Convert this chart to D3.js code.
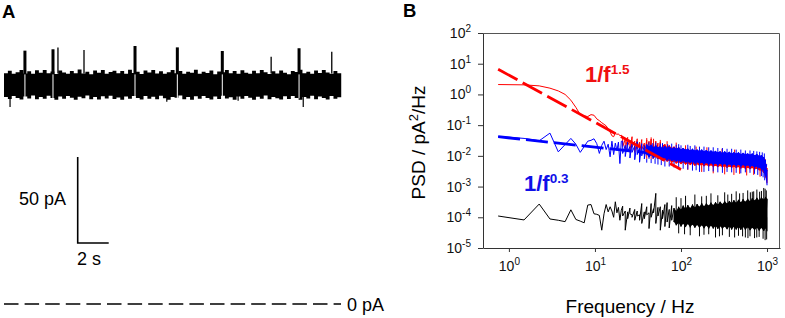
<!DOCTYPE html>
<html><head><meta charset="utf-8">
<script src="https://cdn.jsdelivr.net/npm/d3@7"></script>
<style>html,body{margin:0;padding:0;background:#fff;} svg{display:block;font-family:"Liberation Sans",Arial,sans-serif;}</style>
</head><body><svg id="c" width="785" height="318"></svg>
<script>
// ================= Panel A : current trace (pA vs s) =================
const traceDt = 0.25; // s between envelope samples
const traceUpper = [
134.2,135.6,133.9,134.8,136.1,134.0,135.3,133.8,135.9,134.4,
136.0,134.1,135.2,133.7,135.8,134.6,133.9,135.5,134.2,136.3,
134.0,135.1,133.6,135.7,134.5,136.0,133.9,134.9,135.6,134.1,
135.4,133.8,136.2,134.3,135.0,133.7,135.8,134.6,136.1,134.0,
135.3,133.9,134.8,136.0,134.2,135.5,133.8,135.1,134.4,136.2,
133.9,135.0,134.3,135.7,133.6,135.2,134.7,136.0,134.1,135.4,
133.8,135.9,134.5,133.9,135.6,134.2,136.1,134.8,133.7,135.3,
134.0,135.8,134.4,133.6,135.5,134.9,136.2,134.1,135.0,133.8,
135.7,134.3,136.0,134.6,133.9,135.4,134.2,135.1];
const traceLower = [
120.4,119.2,121.0,119.8,118.9,120.7,119.5,121.2,119.0,120.3,
119.4,121.1,119.7,118.8,120.6,119.3,121.0,119.9,118.7,120.5,
119.6,121.2,119.1,120.4,118.9,120.8,119.5,121.1,119.2,120.0,
118.8,120.6,119.4,121.0,119.7,118.9,120.9,119.3,120.5,119.0,
121.1,119.6,118.8,120.4,119.9,121.2,119.1,120.3,118.7,120.8,
119.4,121.0,119.8,118.9,120.6,119.2,121.1,119.5,120.2,118.8,
120.7,119.3,121.0,119.9,118.7,120.5,119.4,121.2,119.0,120.3,
119.6,118.9,120.8,119.2,121.0,119.7,118.8,120.4,119.5,121.1,
119.1,120.6,119.8,118.9,120.9,119.4,120.2,119.6];
const downNeedleT = [0.39, 10.5, 15.1, 19.3];
const downNeedleV = [114.5, 117.6, 118.2, 114.5];
const openT = [1.35, 3.16, 8.45, 11.18, 14.08, 19.03];      // openings (band shifted up)
const openPeak = [147.3, 148.1, 150.0, 149.2, 147.1, 148.7];
const openBase = 133.5;
const spikeT = [3.48, 5.16, 17.23, 21.14];                    // brief spikes
const spikePeak = [149.2, 147.7, 143.8, 146.7];
const scaleAmp = 50, scaleTime = 2;

// ================= Panel B : PSD =================
const blackF = [0.75,1.5,2.25,3.0,3.75,4.5,5.25,6.0,6.75,7.5,8.25,9.0,9.75,10.5,11.25,12.0,12.75,13.5,14.25,15.0,15.75,16.5,17.25,18.0,18.75,19.5,20.25];
const blackV = [1.1e-4,8.2e-5,2.7e-4,8.8e-5,8.0e-5,7.2e-5,1.75e-4,8.5e-5,7.5e-5,6.6e-5,2.5e-4,2.6e-4,1.3e-4,1.25e-4,1.15e-4,3.8e-5,1.3e-4,2.6e-4,1.5e-4,2.2e-4,1.6e-4,1.0e-4,3.2e-4,1.4e-4,2.1e-4,8.0e-5,1.7e-4];
const redF = [0.75,1.5,2.25,3.0,3.75,4.5,5.25,6.0,6.75,7.5,8.25,9.0,9.75,10.5,11.25,12.0,13.5,14.25,15.0,15.75,16.5,17.25,18.0,18.75,19.5,20.25];
const redV = [2.1,2.05,1.9,1.6,1.3,1.0,0.65,0.38,0.22,0.20,0.19,0.22,0.21,0.16,0.14,0.12,0.095,0.075,0.06,0.045,0.042,0.055,0.05,0.052,0.045,0.047];
const blueF = [0.75,1.5,2.25,3.0,3.75,5.25,6.0,6.75,7.5,8.25,9.0,9.75,10.5,11.25,12.0,12.75,13.5,14.25,15.0,15.75,16.5,17.25,18.0,18.75,19.5,20.25];
const blueV = [0.043,0.037,0.031,0.055,0.0135,0.037,0.024,0.013,0.02,0.03,0.032,0.036,0.025,0.012,0.022,0.03,0.016,0.024,0.0093,0.03,0.011,0.026,0.015,0.028,0.0056,0.03];

// dense part: per frequency bin, upper and lower edge of the noisy band
const bandF = [21,22.5,24,25.5,27,29,31,33,35,37.5,40,42.5,45,48,51,54,57.5,61,65,69,73,78,83,88,94,100,106,113,120,128,136,145,154,164,174,185,197,210,223,237,252,268,285,303,322,343,365,388,412,438,466,496,527,560,596,634,674,716,762,810,861,916,960,1000];
const blackHi = [2.3e-4,1.6e-4,1.5e-4,2.0e-4,1.2e-4,1.8e-4,1.6e-4,1.2e-4,2.8e-4,1.5e-4,2.2e-4,1.4e-4,2.8e-4,1.9e-4,6.0e-4,2.1e-4,2.2e-4,1.7e-4,2.6e-4,3.0e-4,1.8e-4,2.4e-4,
  2.0e-4,1.6e-4,2.2e-4,1.8e-4,2.4e-4,1.9e-4,2.5e-4,2.0e-4,2.6e-4,2.1e-4,2.7e-4,2.2e-4,2.9e-4,2.3e-4,2.8e-4,2.4e-4,3.0e-4,2.5e-4,3.1e-4,2.6e-4,3.2e-4,2.7e-4,3.3e-4,2.8e-4,3.4e-4,2.9e-4,3.6e-4,3.0e-4,3.7e-4,3.1e-4,3.9e-4,3.2e-4,4.0e-4,3.3e-4,4.2e-4,3.5e-4,4.3e-4,3.6e-4,4.5e-4,3.8e-4,4.6e-4,4.0e-4];
const blackLo = [1.1e-4,3.8e-5,9e-5,1.3e-4,1.0e-4,8e-5,1.1e-4,8e-5,6.3e-5,9e-5,1.2e-4,4.3e-5,1.0e-4,1.4e-4,6.3e-5,1.1e-4,3.8e-5,9e-5,5e-5,7e-5,4.5e-5,8e-5,
  7e-5,5.5e-5,6.5e-5,5e-5,6.2e-5,4.8e-5,6e-5,4.7e-5,5.8e-5,4.6e-5,5.6e-5,4.5e-5,5.5e-5,4.4e-5,5.4e-5,4.3e-5,5.3e-5,4.3e-5,5.2e-5,4.2e-5,5.1e-5,4.2e-5,5.0e-5,4.1e-5,5.0e-5,4.0e-5,4.9e-5,4.0e-5,4.8e-5,3.9e-5,4.8e-5,3.9e-5,4.7e-5,3.8e-5,4.6e-5,3.8e-5,4.6e-5,3.7e-5,4.5e-5,3.6e-5,4.4e-5,3.5e-5];
const redHi = [0.042,0.035,0.040,0.032,0.042,0.030,0.036,0.028,0.034,0.026,0.033,0.030,0.035,0.024,0.030,0.026,0.028,0.022,
  0.024,0.019,0.022,0.018,0.020,0.017,0.019,0.016,0.018,0.015,0.017,0.015,0.016,0.014,0.0155,0.014,0.015,0.0135,0.0145,0.013,0.014,0.0128,0.0138,0.0125,0.0135,0.012,0.013,0.012,0.0128,0.0115,0.0125,0.0112,0.012,0.011,0.0118,0.0108,0.0115,0.0105,0.011,0.0102,0.0108,0.0098,0.0100,0.0088,0.0075,0.004];
const redLo = [0.020,0.016,0.022,0.015,0.019,0.013,0.017,0.012,0.016,0.011,0.014,0.0095,0.012,0.0085,0.011,0.008,0.0095,0.007,
  0.0075,0.0065,0.007,0.006,0.0066,0.0056,0.0062,0.0054,0.006,0.0052,0.0057,0.005,0.0055,0.0048,0.0053,0.0047,0.0052,0.0046,0.005,0.0045,0.0049,0.0044,0.0048,0.0043,0.0047,0.0042,0.0046,0.0041,0.0045,0.0041,0.0044,0.004,0.0043,0.0039,0.0042,0.0038,0.0041,0.0037,0.004,0.0036,0.0038,0.0034,0.0033,0.0028,0.002,0.0013];
const blueHi = [0.030,0.022,0.028,0.020,0.026,0.021,0.029,0.019,0.025,0.022,
  0.024,0.020,0.023,0.019,0.022,0.019,0.021,0.018,0.021,0.018,0.020,0.017,0.019,0.017,0.019,0.016,0.018,0.016,0.017,0.015,0.017,0.015,0.016,0.0145,0.016,0.014,0.0155,0.0135,0.015,0.0135,0.0145,0.013,0.014,0.0125,0.014,0.0125,0.0135,0.012,0.013,0.012,0.013,0.0115,0.0125,0.0115,0.012,0.011,0.012,0.0105,0.0115,0.010,0.0105,0.009,0.0072,0.0035];
const blueLo = [0.012,0.0095,0.014,0.0085,0.013,0.0075,0.011,0.0062,0.010,0.008,
  0.011,0.009,0.0105,0.0085,0.0095,0.008,0.009,0.0075,0.0085,0.007,0.008,0.0068,0.0075,0.0065,0.0072,0.0062,0.007,0.006,0.0066,0.0058,0.0064,0.0056,0.0062,0.0055,0.006,0.0054,0.0058,0.0052,0.0057,0.0051,0.0056,0.005,0.0055,0.0049,0.0054,0.0048,0.0053,0.0047,0.0052,0.0046,0.0051,0.0045,0.005,0.0045,0.0049,0.0044,0.0047,0.0042,0.0045,0.004,0.0038,0.0032,0.0022,0.0011];

// isolated excursions outside the dense band
const blackSpikeF = [88,100,113,145,174,197,223,268,322,350,388,438,480,527,596,640,674,700,762,820,861,916,950,980, 94,110,128,164,185,210,252,280,303,365,420,466,520,560,600,634,716,760,810,900,950,990];
const blackSpikeV = [4.5e-4,4.2e-4,5e-4,5.5e-4,4.8e-4,5e-4,6e-4,5.2e-4,6.5e-4,5.5e-4,5.8e-4,7e-4,6e-4,6.2e-4,7.5e-4,6.5e-4,6.8e-4,7e-4,8e-4,6.8e-4,7.2e-4,9e-4,8.5e-4,7.5e-4, 3e-5,2.8e-5,2.6e-5,2.4e-5,2.7e-5,2.8e-5,2.2e-5,2.4e-5,2.6e-5,2.3e-5,2.2e-5,2.5e-5,2.4e-5,2.2e-5,2.1e-5,2.4e-5,2.1e-5,2.2e-5,2.3e-5,2.0e-5,1.8e-5,1.9e-5];
const redSpikeF = [40,45,48,57.5,69,88,113,150,200,300,420, 120,174,237,322,412,480,580,700,830];
const redSpikeV = [0.038,0.04,0.036,0.033,0.03,0.027,0.022,0.02,0.019,0.017,0.016, 0.0035,0.003,0.0027,0.0025,0.0024,0.0026,0.0023,0.0024,0.0021];
const blueSpikeF = [42.5,47,51,57.5,61,70,78,88,94,100,120,128,145,164,185,210,237,268,303,343,388,438,496,560,634,700,762,820,880,930,
  40,45,50,54,59,65,73,83,94,106,120,136,150,164,185,210,237,268,303,343,388,438,496,560,634,716,780,861,900,940];
const blueSpikeV = [0.028,0.026,0.027,0.025,0.026,0.024,0.025,0.023,0.024,0.022,0.023,0.021,0.022,0.02,0.02,0.019,0.019,0.018,0.018,0.017,0.017,0.016,0.016,0.015,0.015,0.0145,0.014,0.0135,0.013,0.012,
  0.006,0.0058,0.0055,0.0052,0.005,0.0045,0.0045,0.0042,0.004,0.0038,0.0036,0.0033,0.0034,0.003,0.003,0.0032,0.0031,0.0029,0.0028,0.003,0.0029,0.0028,0.0027,0.0029,0.0028,0.0026,0.0024,0.0022,0.002,0.0016];

// power-law fits (end points)
const fitRedF = [0.75, 100], fitRedV = [6.6, 0.0036];
const fitBlueF = [0.75, 1000], fitBlueV = [0.042, 0.0048];
const xTicks = [1, 10, 100, 1000];
const yTicks = [1e-5, 1e-4, 1e-3, 1e-2, 1e-1, 1e0, 1e1, 1e2];

const RED = "#ff0000", BLUE = "#0000ff";
const svg = d3.select("#c");

// ---------- Panel A ----------
const xA = d3.scaleLinear().domain([0, 21.8]).range([4, 342]);
const yA = d3.scaleLinear().domain([0, 150]).range([304, 46]);
svg.append("text").attr("x", 2).attr("y", 18).attr("font-size", 18.5).attr("font-weight", "bold").text("A");

const traceData = traceUpper.map((u, i) => ({t: i * traceDt, u, l: traceLower[i]}));
svg.append("path").datum(traceData)
  .attr("d", d3.area().curve(d3.curveStepAfter).x(d => xA(d.t)).y0(d => yA(d.l)).y1(d => yA(d.u)))
  .attr("fill", "#000");
downNeedleT.forEach((t, i) => {
  svg.append("line").attr("x1", xA(t)).attr("x2", xA(t)).attr("y1", yA(121)).attr("y2", yA(downNeedleV[i]))
    .attr("stroke", "#000").attr("stroke-width", 1.2);
});
openT.forEach((t, i) => {
  svg.append("rect").attr("x", xA(t) - 1.5).attr("width", 3)
    .attr("y", yA(openPeak[i])).attr("height", yA(openBase) - yA(openPeak[i])).attr("fill", "#000");
  svg.append("line").attr("x1", xA(t)).attr("x2", xA(t)).attr("y1", yA(openBase)).attr("y2", yA(119.5))
    .attr("stroke", "#fff").attr("stroke-width", 1);
});
spikeT.forEach((t, i) => {
  svg.append("line").attr("x1", xA(t)).attr("x2", xA(t)).attr("y1", yA(134)).attr("y2", yA(spikePeak[i]))
    .attr("stroke", "#000").attr("stroke-width", 1.3);
});
// scale bar
const sbX = 77.7, sbY = 243;
const sbH = yA(0) - yA(scaleAmp), sbW = xA(scaleTime) - xA(0);
svg.append("path").attr("d", `M${sbX},${sbY - sbH}V${sbY}H${sbX + sbW}`)
  .attr("fill", "none").attr("stroke", "#000").attr("stroke-width", 1.6);
svg.append("text").attr("x", 66).attr("y", 205).attr("text-anchor", "end").attr("font-size", 18).text(scaleAmp + " pA");
svg.append("text").attr("x", 77).attr("y", 265).attr("font-size", 18).text(scaleTime + " s");
// zero-current line
svg.append("line").attr("x1", xA(0)).attr("x2", 341).attr("y1", yA(0)).attr("y2", yA(0))
  .attr("stroke", "#000").attr("stroke-width", 1.4).attr("stroke-dasharray", "14.5,6.1");
svg.append("text").attr("x", 347).attr("y", 311).attr("font-size", 18).text("0 pA");

// ---------- Panel B ----------
const xB = d3.scaleLog().domain([0.5, 1415]).range([483, 780]);
const yB = d3.scaleLog().domain([1e-5, 1e2]).range([248, 33]);
svg.append("text").attr("x", 403).attr("y", 17).attr("font-size", 18.5).attr("font-weight", "bold").text("B");

function supLabels(g, small) {
  g.selectAll(".tick text").each(function(d) {
    const e = Math.round(Math.log10(d));
    const t = d3.select(this); t.text(null);
    t.append("tspan").text("10");
    t.append("tspan").attr("dy", -6).attr("font-size", small).text(e < 0 ? "-" + (-e) : String(e));
  });
}
const gy = svg.append("g").attr("transform", "translate(483,0)")
  .call(d3.axisLeft(yB).tickValues(yTicks).tickSize(5).tickPadding(7).tickSizeOuter(0));
gy.attr("font-size", 14).attr("font-family", null).attr("color", "#333");
supLabels(gy, 10);
const gx = svg.append("g").attr("transform", "translate(0,248)")
  .call(d3.axisBottom(xB).tickValues(xTicks).tickSize(4).tickPadding(9.5).tickSizeOuter(0));
gx.attr("font-size", 14).attr("font-family", null).attr("color", "#333");
supLabels(gx, 10);
gx.selectAll(".tick text").attr("fill", "#111"); gy.selectAll(".tick text").attr("fill", "#111");
svg.append("path").attr("d", `M483,33.5H779.5V248`).attr("fill", "none").attr("stroke", "#555").attr("stroke-width", 1);

const line = d3.line().x(d => xB(d[0])).y(d => yB(d[1]));
const band = d3.area().x(d => xB(d.f)).y0(d => yB(d.lo)).y1(d => yB(d.hi));
const plot = svg.append("g");
function drawSeries(F, V, hi, lo, spF, spV, spRef, color, fillFrom) {
  const pts = F.map((f, i) => [f, V[i]]);
  bandF.forEach((f, i) => { pts.push([f, hi[i]]); pts.push([f, lo[i]]); });
  const rows = bandF.map((f, i) => ({f, hi: hi[i], lo: lo[i]})).filter(d => d.f >= fillFrom);
  plot.append("path").datum(rows).attr("d", band).attr("fill", color);
  plot.append("path").attr("d", line(pts)).attr("fill", "none").attr("stroke", color).attr("stroke-width", 1);
  spF.forEach((f, i) => {
    plot.append("line").attr("x1", xB(f)).attr("x2", xB(f)).attr("y1", yB(spRef)).attr("y2", yB(spV[i]))
      .attr("stroke", color).attr("stroke-width", 1);
  });
}
drawSeries(blackF, blackV, blackHi, blackLo, blackSpikeF, blackSpikeV, 1e-4, "#000", 83);
drawSeries(redF, redV, redHi, redLo, redSpikeF, redSpikeV, 0.008, RED, 61);
drawSeries(blueF, blueV, blueHi, blueLo, blueSpikeF, blueSpikeV, 0.008, BLUE, 40);
plot.append("path").attr("d", line(fitBlueF.map((f, i) => [f, fitBlueV[i]]))).attr("fill", "none")
  .attr("stroke", BLUE).attr("stroke-width", 2.8).attr("stroke-dasharray", "22,6");
plot.append("path").attr("d", line(fitRedF.map((f, i) => [f, fitRedV[i]]))).attr("fill", "none")
  .attr("stroke", RED).attr("stroke-width", 2.8).attr("stroke-dasharray", "22,6");

// legend labels
const lr = svg.append("text").attr("x", 585).attr("y", 82).attr("font-size", 22).attr("font-weight", "bold").attr("fill", "#f01010");
lr.append("tspan").text("1/f"); lr.append("tspan").attr("dy", -8).attr("font-size", 13.5).text("1.5");
const lb = svg.append("text").attr("x", 524).attr("y", 190.5).attr("font-size", 22).attr("font-weight", "bold").attr("fill", "#1010e8");
lb.append("tspan").text("1/f"); lb.append("tspan").attr("dy", -8).attr("font-size", 13.5).text("0.3");

// axis titles
svg.append("text").attr("x", 630).attr("y", 313).attr("text-anchor", "middle").attr("font-size", 19).text("Frequency / Hz");
const yt = svg.append("text").attr("transform", "translate(425,142.5) rotate(-90)").attr("text-anchor", "middle").attr("font-size", 19);
yt.append("tspan").text("PSD / pA");
yt.append("tspan").attr("dy", -7).attr("font-size", 13).text("2");
yt.append("tspan").attr("dy", 7).text("/Hz");
</script></body></html>
